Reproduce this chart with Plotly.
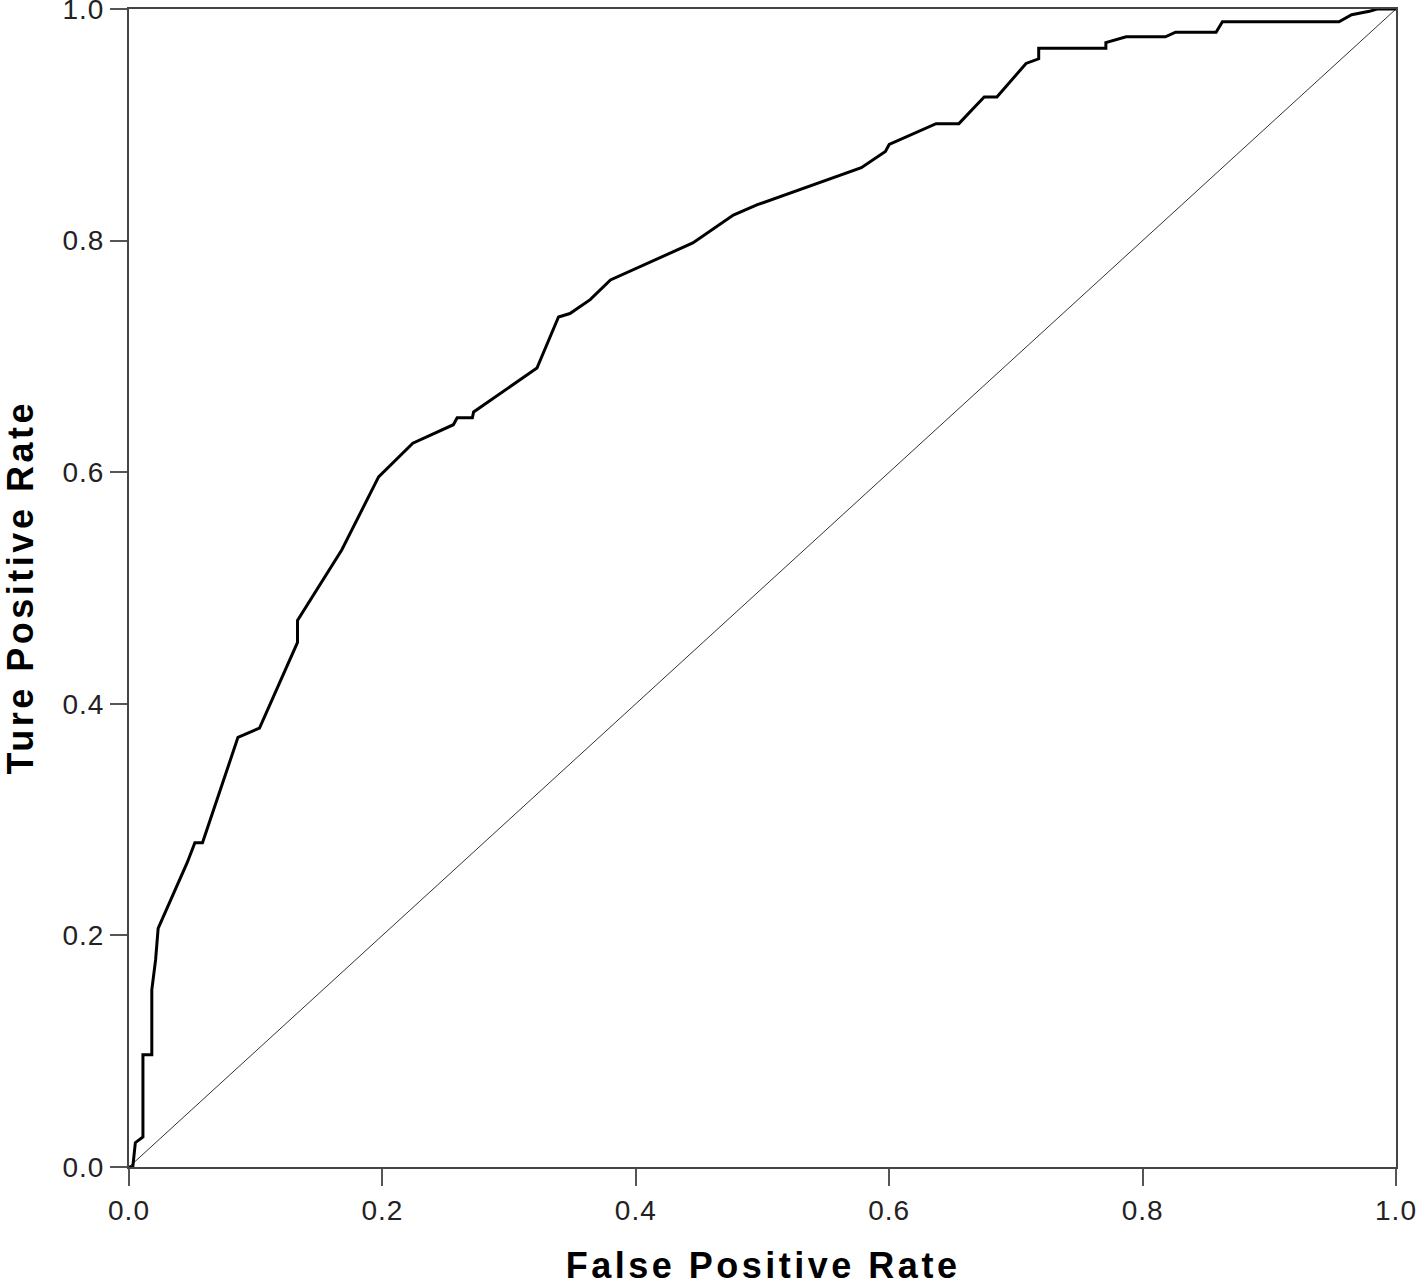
import plotly.graph_objects as go

# ROC curve
fpr = [0.000, 0.003, 0.005, 0.011, 0.011, 0.018, 0.018, 0.021, 0.023,
       0.046, 0.052, 0.058, 0.086, 0.103, 0.133, 0.133, 0.168, 0.188,
       0.197, 0.224, 0.256, 0.259, 0.271, 0.272, 0.322, 0.339, 0.348,
       0.364, 0.380, 0.445, 0.477, 0.496, 0.556, 0.578, 0.597, 0.600,
       0.637, 0.655, 0.668, 0.675, 0.685, 0.708, 0.718, 0.718, 0.771,
       0.771, 0.787, 0.818, 0.826, 0.858, 0.863, 0.955, 0.965, 0.979,
       0.985, 1.000]
tpr = [0.000, 0.000, 0.021, 0.026, 0.097, 0.097, 0.153, 0.179, 0.206,
       0.263, 0.280, 0.280, 0.371, 0.379, 0.453, 0.472, 0.533, 0.576,
       0.596, 0.625, 0.641, 0.647, 0.647, 0.652, 0.690, 0.734, 0.737,
       0.749, 0.766, 0.798, 0.822, 0.831, 0.854, 0.863, 0.877, 0.883,
       0.901, 0.901, 0.916, 0.924, 0.924, 0.953, 0.957, 0.966, 0.966,
       0.971, 0.976, 0.976, 0.980, 0.980, 0.989, 0.989, 0.995, 0.998,
       1.000, 1.000]

ref_line = [0.0, 1.0]
tick_vals = [0.0, 0.2, 0.4, 0.6, 0.8, 1.0]
tick_text = ["0.0", "0.2", "0.4", "0.6", "0.8", "1.0"]
x_title = "False Positive Rate"
y_title = "Ture Positive Rate"

fig = go.Figure()
fig.add_trace(go.Scatter(x=ref_line, y=ref_line, mode="lines",
                         line=dict(color="#333333", width=1), showlegend=False))
fig.add_trace(go.Scatter(x=fpr, y=tpr, mode="lines",
                         line=dict(color="black", width=3), showlegend=False))

axis_style = dict(range=[0, 1], tickvals=tick_vals, ticktext=tick_text,
                  showgrid=False, zeroline=False, showline=True, mirror=True,
                  linecolor="#444444", linewidth=2, ticks="outside",
                  ticklen=17, tickwidth=2, tickcolor="#555555", automargin=False,
                  ticklabeloverflow="allow",
                  tickfont=dict(family="Liberation Sans", size=28, color="#222222"))
fig.update_xaxes(**axis_style)
fig.update_yaxes(**axis_style)

title_font = dict(family="Liberation Sans", size=36, color="black")
fig.add_annotation(text=f"<b>{x_title}</b>", xref="paper", yref="paper",
                   x=0.5, y=0, yshift=-98, xanchor="center", yanchor="middle",
                   showarrow=False, font=title_font)
fig.add_annotation(text=f"<b>{y_title}</b>", xref="paper", yref="paper",
                   x=0, y=0.5, xshift=-109, xanchor="center", yanchor="middle",
                   textangle=-90, showarrow=False, font=title_font)

fig.update_layout(width=1418, height=1282, template="simple_white",
                  plot_bgcolor="white", paper_bgcolor="white",
                  margin=dict(l=129, r=22, t=9, b=115))

# no page margin, SPSS-style loose letter spacing
spacing_js = ("var s=document.createElement('style');"
              "s.innerHTML='body{margin:0}"
              ".xtick text,.ytick text{letter-spacing:1px}"
              ".annotation-text{letter-spacing:3.5px}';"
              "document.head.appendChild(s);")
fig.write_html("out.html", post_script=spacing_js,
               config={"displayModeBar": False})
